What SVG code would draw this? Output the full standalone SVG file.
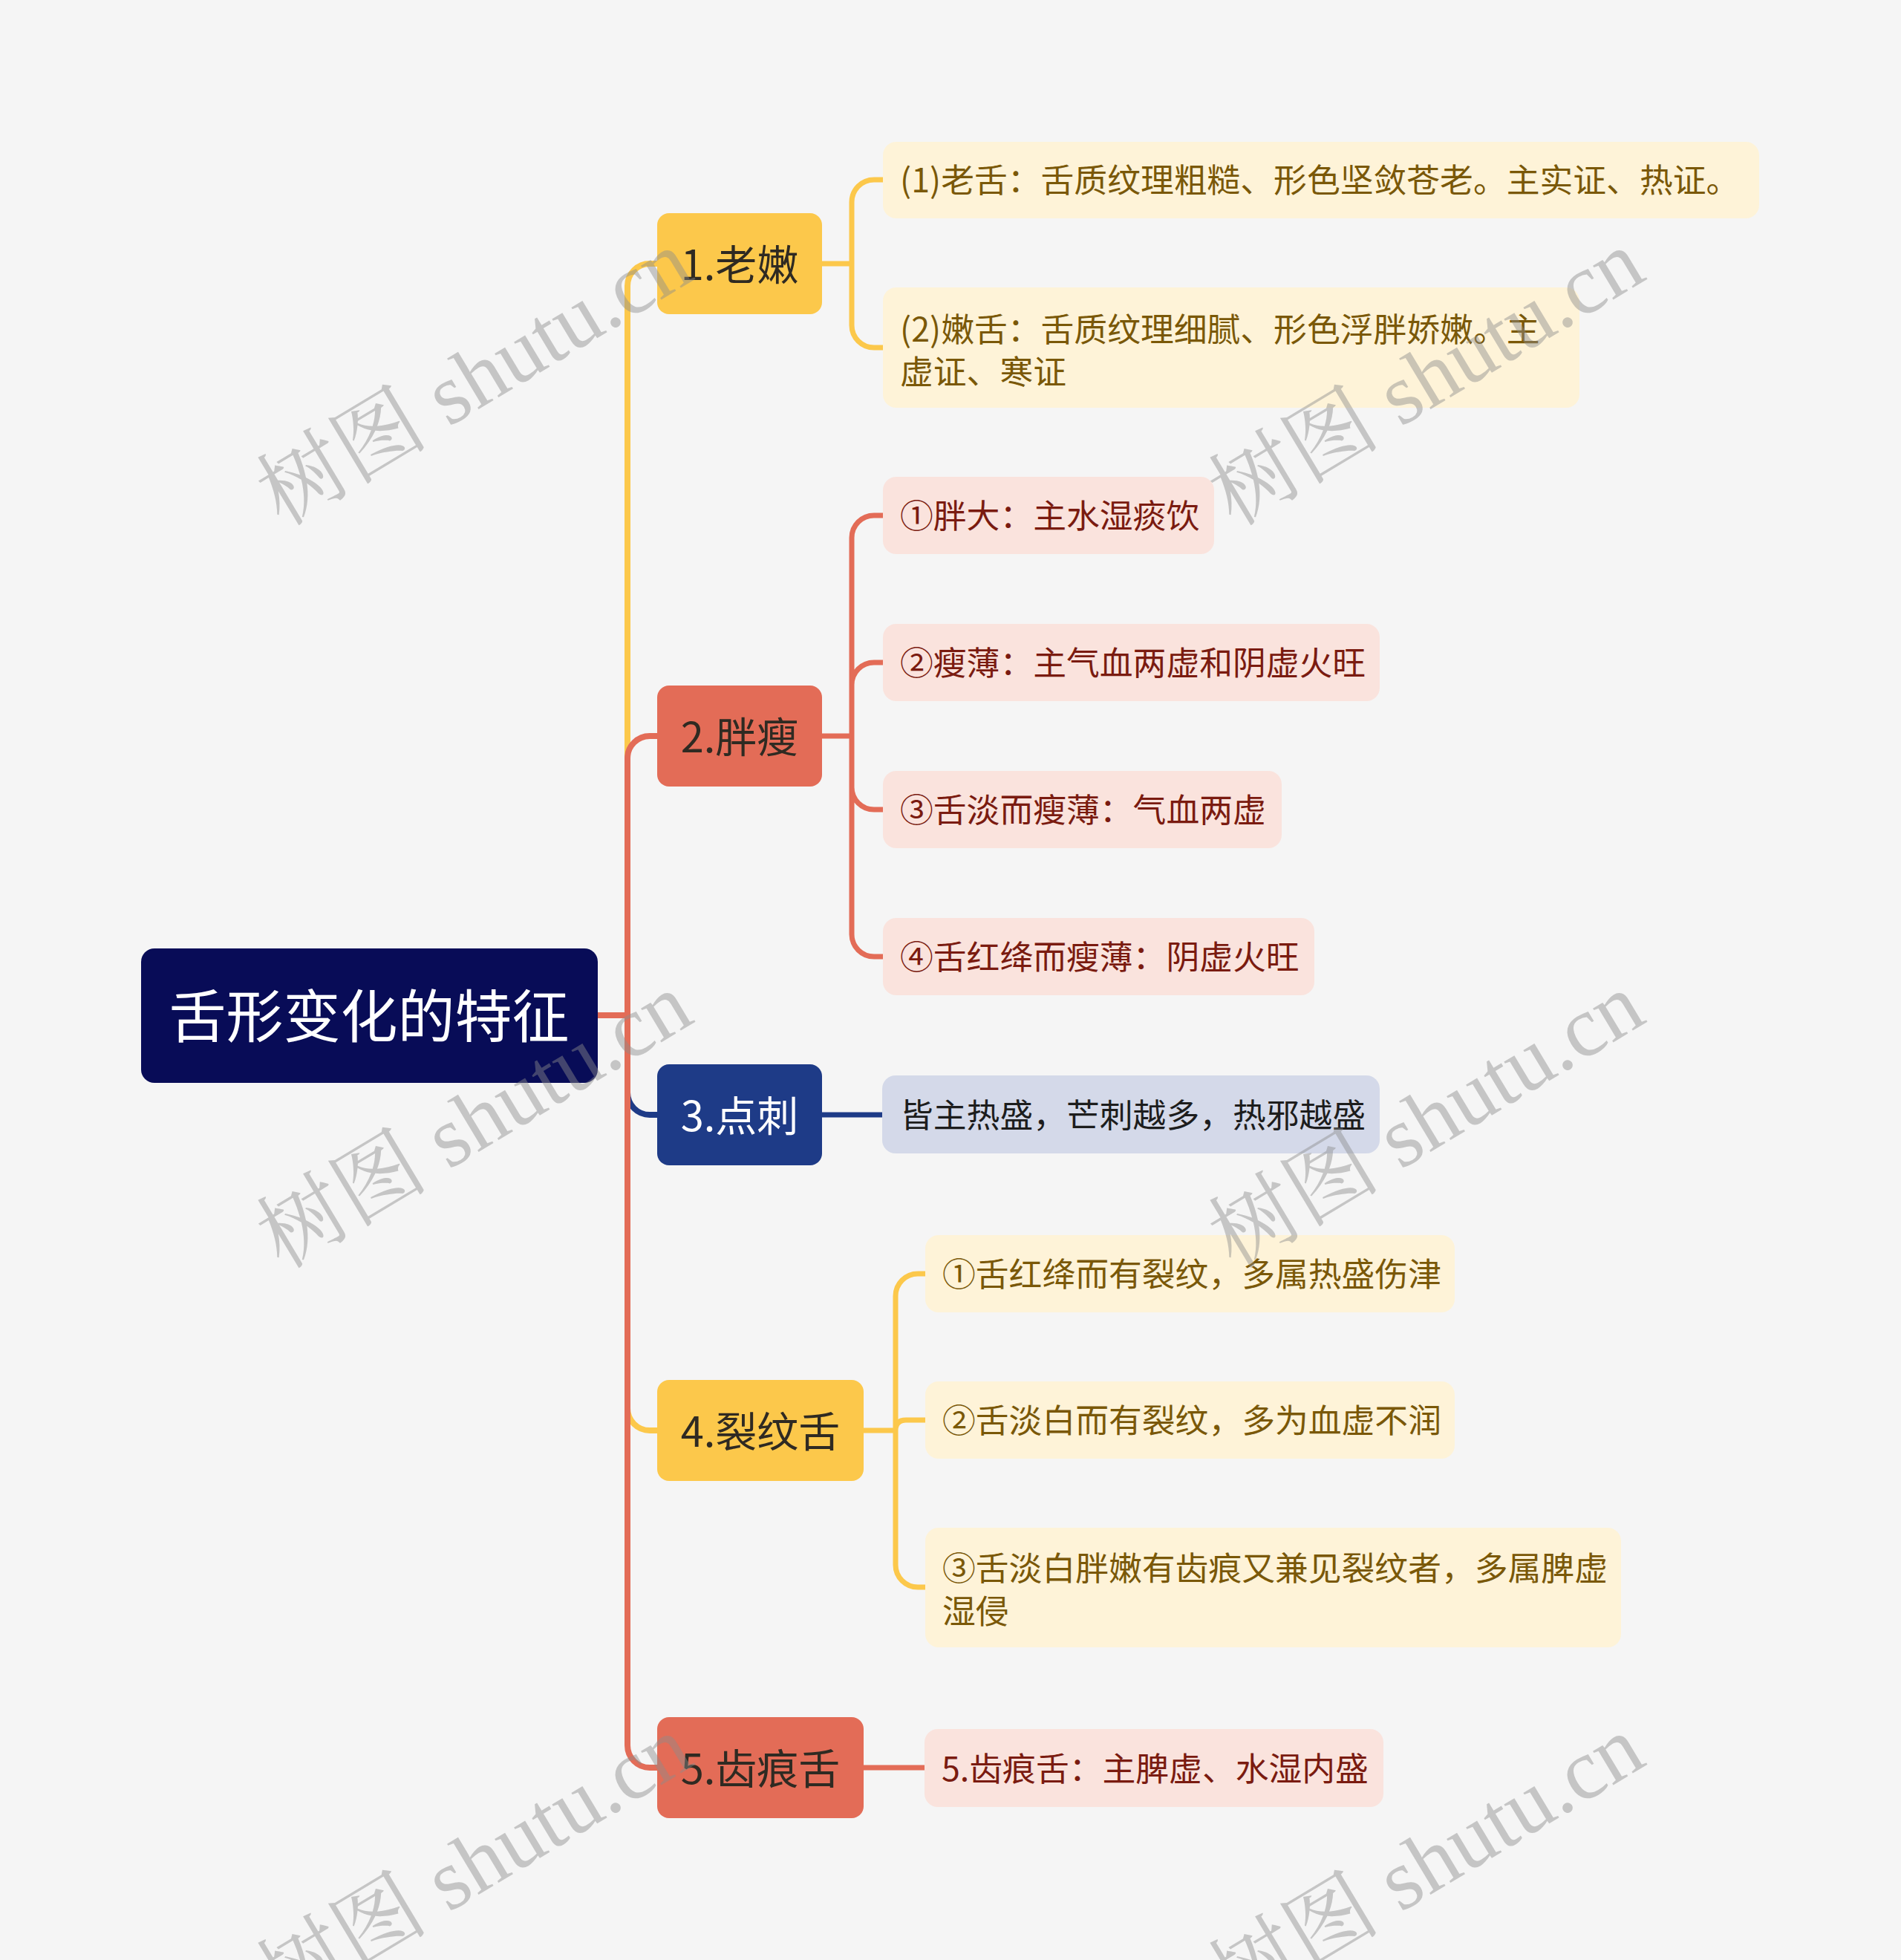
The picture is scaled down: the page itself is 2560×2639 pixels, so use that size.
<svg xmlns="http://www.w3.org/2000/svg" width="2560" height="2639" viewBox="0 0 2560 2639">
<style>
.t{font-family:"Noto Sans CJK SC","Noto Sans",sans-serif}
.root{font-size:77px;fill:#ffffff}
.l1{font-size:56px;fill:#2f2a22}
.l1w{font-size:56px;fill:#ffffff}
.s{font-size:44.8px}
.sy{fill:#7a5808}
.sr{fill:#7a1b10}
.sb{fill:#1d1d1d}
.main{fill:none;stroke-width:8}
.sub{fill:none;stroke-width:7}
.wm{font-family:"Liberation Serif","Noto Serif CJK SC","Noto Sans CJK SC",serif;font-size:116px;fill:#8c8c8c;fill-opacity:0.45}
</style>
<rect x="0" y="0" width="2560" height="2639" fill="#f5f5f5"/>

<g id="connectors">
  <path class="main" stroke="#fcc84b" d="M805,1367 H845 V385 A30,30 0 0 1 875,355 H887"/>
  <path class="main" stroke="#1e3b87" d="M805,1367 H845 V1471 A30,30 0 0 0 875,1501 H887"/>
  <path class="main" stroke="#fcc84b" d="M805,1367 H845 V1896 A30,30 0 0 0 875,1926 H887"/>
  <path class="main" stroke="#e36c57" d="M805,1367 H845 V1021 A30,30 0 0 1 875,991 H887"/>
  <path class="main" stroke="#e36c57" d="M805,1367 H845 V2350 A30,30 0 0 0 875,2380 H887"/>

  <path class="sub" stroke="#fcc84b" d="M1105,355 H1147 M1147,355 V272 A30,30 0 0 1 1177,242 H1191 M1147,355 V438 A30,30 0 0 0 1177,468 H1191"/>
  <path class="sub" stroke="#e36c57" d="M1105,991 H1147 M1147,991 V724 A30,30 0 0 1 1177,694 H1191 M1147,991 V922 A30,30 0 0 1 1177,892 H1191 M1147,991 V1060 A30,30 0 0 0 1177,1090 H1191 M1147,991 V1258 A30,30 0 0 0 1177,1288 H1191"/>
  <path class="sub" stroke="#1e3b87" d="M1105,1501 H1190"/>
  <path class="sub" stroke="#fcc84b" d="M1161,1926 H1206 M1206,1926 V1745 A30,30 0 0 1 1236,1715 H1248 M1206,1926 Q1206,1912 1220,1912 H1248 M1206,1926 V2107 A30,30 0 0 0 1236,2137 H1248"/>
  <path class="sub" stroke="#e36c57" d="M1161,2380 H1247"/>
</g>

<g id="root">
  <rect x="190" y="1277" width="615" height="181" rx="18" fill="#080c57"/>
  <text class="t root" x="497" y="1397" text-anchor="middle">舌形变化的特征</text>
</g>

<g id="n1">
  <rect x="885" y="287" width="222" height="136" rx="16" fill="#fcc84b"/>
  <text class="t l1" x="996" y="377" text-anchor="middle">1.老嫩</text>
</g>
<g id="n1a">
  <rect x="1189" y="191" width="1180" height="103" rx="18" fill="#fef3d8"/>
  <text class="t s sy" x="1212" y="259">(1)老舌：舌质纹理粗糙、形色坚敛苍老。主实证、热证。</text>
</g>
<g id="n1b">
  <rect x="1189" y="387" width="938" height="162" rx="18" fill="#fef3d8"/>
  <text class="t s sy" x="1212" y="460">(2)嫩舌：舌质纹理细腻、形色浮胖娇嫩。主</text>
  <text class="t s sy" x="1212" y="517">虚证、寒证</text>
</g>

<g id="n2">
  <rect x="885" y="923" width="222" height="136" rx="16" fill="#e36c57"/>
  <text class="t l1" x="996" y="1013" text-anchor="middle">2.胖瘦</text>
</g>
<g id="n2a">
  <rect x="1189" y="642" width="446" height="104" rx="18" fill="#fae3dd"/>
  <text class="t s sr" x="1212" y="711">①胖大：主水湿痰饮</text>
</g>
<g id="n2b">
  <rect x="1189" y="840" width="669" height="104" rx="18" fill="#fae3dd"/>
  <text class="t s sr" x="1212" y="909">②瘦薄：主气血两虚和阴虚火旺</text>
</g>
<g id="n2c">
  <rect x="1189" y="1038" width="537" height="104" rx="18" fill="#fae3dd"/>
  <text class="t s sr" x="1212" y="1107">③舌淡而瘦薄：气血两虚</text>
</g>
<g id="n2d">
  <rect x="1189" y="1236" width="581" height="104" rx="18" fill="#fae3dd"/>
  <text class="t s sr" x="1212" y="1305">④舌红绛而瘦薄：阴虚火旺</text>
</g>

<g id="n3">
  <rect x="885" y="1433" width="222" height="136" rx="16" fill="#1e3b87"/>
  <text class="t l1w" x="996" y="1523" text-anchor="middle">3.点刺</text>
</g>
<g id="n3a">
  <rect x="1188" y="1448" width="670" height="105" rx="18" fill="#d4d9e9"/>
  <text class="t s sb" x="1212" y="1518">皆主热盛，芒刺越多，热邪越盛</text>
</g>

<g id="n4">
  <rect x="885" y="1858" width="278" height="136" rx="16" fill="#fcc84b"/>
  <text class="t l1" x="1024" y="1948" text-anchor="middle">4.裂纹舌</text>
</g>
<g id="n4a">
  <rect x="1246" y="1663" width="713" height="104" rx="18" fill="#fef3d8"/>
  <text class="t s sy" x="1269" y="1732">①舌红绛而有裂纹，多属热盛伤津</text>
</g>
<g id="n4b">
  <rect x="1246" y="1860" width="713" height="104" rx="18" fill="#fef3d8"/>
  <text class="t s sy" x="1269" y="1929">②舌淡白而有裂纹，多为血虚不润</text>
</g>
<g id="n4c">
  <rect x="1246" y="2057" width="937" height="161" rx="18" fill="#fef3d8"/>
  <text class="t s sy" x="1269" y="2128">③舌淡白胖嫩有齿痕又兼见裂纹者，多属脾虚</text>
  <text class="t s sy" x="1269" y="2186">湿侵</text>
</g>

<g id="n5">
  <rect x="885" y="2312" width="278" height="136" rx="16" fill="#e36c57"/>
  <text class="t l1" x="1024" y="2402" text-anchor="middle">5.齿痕舌</text>
</g>
<g id="n5a">
  <rect x="1245" y="2328" width="618" height="105" rx="18" fill="#fae3dd"/>
  <text class="t s sr" x="1268" y="2398">5.齿痕舌：主脾虚、水湿内盛</text>
</g>

<g id="watermark">
  <text class="wm" transform="translate(380,710) rotate(-31)">树图 shutu.cn</text>
  <text class="wm" transform="translate(1662,710) rotate(-31)">树图 shutu.cn</text>
  <text class="wm" transform="translate(380,1710) rotate(-31)">树图 shutu.cn</text>
  <text class="wm" transform="translate(1662,1710) rotate(-31)">树图 shutu.cn</text>
  <text class="wm" transform="translate(380,2710) rotate(-31)">树图 shutu.cn</text>
  <text class="wm" transform="translate(1662,2710) rotate(-31)">树图 shutu.cn</text>
</g>
</svg>
